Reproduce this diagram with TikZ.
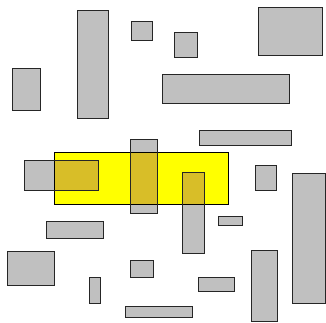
\documentclass[tikz,border=0pt]{standalone}
\definecolor{boxgray}{RGB}{192,192,192}
\definecolor{hilite}{RGB}{255,255,0}
\definecolor{overlap}{RGB}{216,190,40}
\begin{document}
\begin{tikzpicture}[x=0.03cm,y=-0.03cm,
    box/.style={fill=boxgray,draw=black!85,line width=0.8pt},
    area/.style={fill=hilite,draw=black,line width=0.8pt}]
    \useasboundingbox (0,0) rectangle (326,322);
    \def\boxlist{77/10/108/118, 131/21/152/40, 174/32/197/57, 258/7/322/55,
        12/68/40/110, 162/74/289/103, 199/130/291/145, 130/139/157/213,
        24/160/98/190, 182/172/204/253, 255/165/276/190, 292/173/325/303,
        218/216/242/225, 46/221/103/238, 7/251/54/285, 130/260/153/277,
        89/277/100/303, 198/277/234/291, 251/250/277/321, 125/306/192/317}

    % gray boxes
    \foreach \xa/\ya/\xb/\yb in \boxlist
        \fill[boxgray] (\xa,\ya) rectangle (\xb,\yb);

    % highlighted area
    \coordinate (A1) at (54,152);
    \coordinate (A2) at (228,204);
    \fill[hilite] (A1) rectangle (A2);
    \begin{scope}
        \clip (A1) rectangle (A2);
        \foreach \xa/\ya/\xb/\yb in \boxlist
            \fill[overlap] (\xa,\ya) rectangle (\xb,\yb);
    \end{scope}

    % outlines on top
    \draw[area,fill=none] (A1) rectangle (A2);
    \foreach \xa/\ya/\xb/\yb in \boxlist
        \draw[box,fill=none] (\xa,\ya) rectangle (\xb,\yb);
\end{tikzpicture}
\end{document}
